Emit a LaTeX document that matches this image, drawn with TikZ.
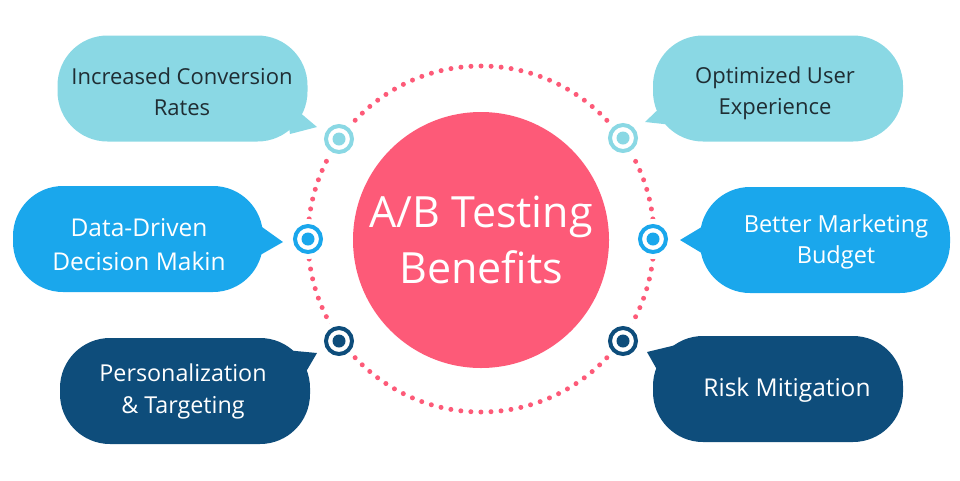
\documentclass[tikz,border=0pt]{standalone}
\usepackage{fontspec}
\setmainfont{Open Sans}
\definecolor{cyanC}{HTML}{8AD8E4}
\definecolor{blueC}{HTML}{1AA7EC}
\definecolor{navyC}{HTML}{0E4D7B}
\definecolor{pinkC}{HTML}{FD5A78}
\definecolor{darkT}{HTML}{1F2D33}
\tikzset{
  bubble/.style={rectangle, rounded corners=50pt, minimum width=250pt, minimum height=106pt, inner sep=0pt, fill=#1},
  tail/.style={fill=#1},
  btext/.style={align=center, text=#1, font=\fontsize{22}{31}\selectfont, inner sep=0pt},
  iconbg/.style={circle, fill=white, minimum size=40pt, inner sep=0pt},
  ring/.style={circle, draw=#1, line width=4pt, minimum size=26pt, inner sep=0pt},
  idot/.style={circle, fill=#1, minimum size=13pt, inner sep=0pt},
  dotcircle/.style={draw=pinkC, line width=5pt, line cap=round, dash pattern=on 0pt off 10.065pt},
}
\begin{document}
\begin{tikzpicture}[x=1pt,y=-1pt]
\useasboundingbox (0,0) rectangle (960,480);
% dotted ring
\coordinate (ctr) at (481,239);
\draw[dotcircle] (ctr) circle[radius=173pt];
% central circle
\node[circle, fill=pinkC, minimum size=256pt, inner sep=0pt] (c) at (481,240) {};
\node[align=center, text=white, font=\fontsize{43}{56}\selectfont, inner sep=0pt] (ct) at (481,240) {A/B Testing\\Benefits};
% icons
\foreach \n/\x/\y/\col in {i1/339/139/cyanC, i2/308/239/blueC, i3/339/341/navyC, i4/623/138/cyanC, i5/653/239/blueC, i6/623/341/navyC}{
  \node[iconbg] (\n) at (\x,\y) {};
  \node[ring=\col] (\n r) at (\n) {};
  \node[idot=\col] (\n d) at (\n) {};
}
% bubbles
\node[bubble=cyanC] (b1) at (182.5,88.5) {};
\fill[tail=cyanC] (285,100) -- (317,127) -- (290,134) -- cycle;
\node[bubble=blueC] (b2) at (138,239) {};
\fill[tail=blueC] (255,222) -- (283,242) -- (255,258) -- cycle;
\node[bubble=navyC] (b3) at (185,391) {};
\fill[tail=navyC] (285,350) -- (317,353) -- (300,382) -- cycle;
\node[bubble=cyanC] (b4) at (778,88.5) {};
\fill[tail=cyanC] (668,100) -- (645,122) -- (682,126) -- cycle;
\node[bubble=blueC] (b5) at (825,240) {};
\fill[tail=blueC] (710,222) -- (680,240) -- (710,258) -- cycle;
\node[bubble=navyC] (b6) at (778,389) {};
\fill[tail=navyC] (676,345) -- (647,352) -- (664,382) -- cycle;
% texts
\node[btext=darkT] (t1) at (182,92) {Increased Conversion\\Rates};
\node[btext=white, font=\fontsize{24.5}{34}\selectfont] (t2) at (139,245) {Data-Driven\\Decision Makin};
\node[btext=white, font=\fontsize{23.3}{32}\selectfont] (t3) at (183,391) {Personalization\\\& Targeting};
\node[btext=darkT] (t4) at (775,93) {Optimized User\\Experience};
\node[btext=white, font=\fontsize{23.5}{31}\selectfont] (t5) at (836,242) {Better Marketing\\Budget};
\node[btext=white, font=\fontsize{24.5}{31}\selectfont] (t6) at (787,390) {Risk Mitigation};
\end{tikzpicture}
\end{document}
